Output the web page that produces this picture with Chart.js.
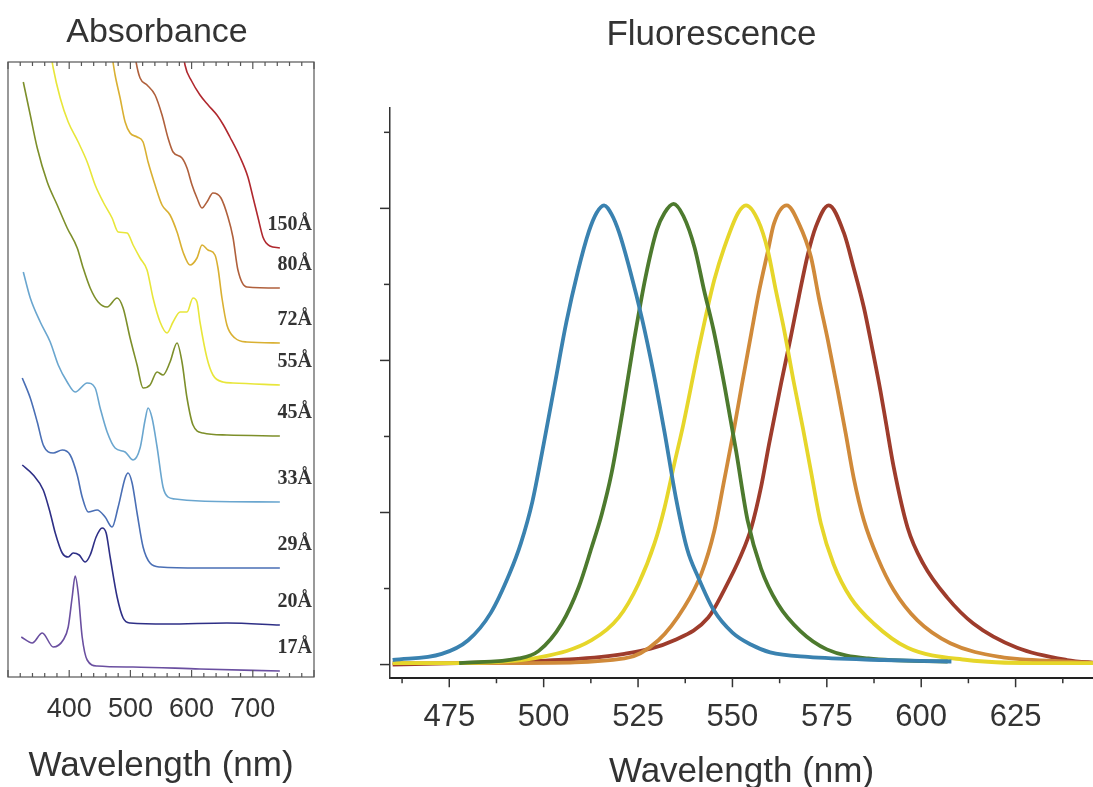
<!DOCTYPE html>
<html>
<head>
<meta charset="utf-8">
<script src="https://cdn.jsdelivr.net/npm/chart.js@4.4.0/dist/chart.umd.min.js"></script>
<style>
body{margin:0;background:#fff;}
#abs{position:absolute;left:0;top:0;width:320px;height:787px;}
#fluo{position:absolute;left:330px;top:0;width:763px;height:787px;}
</style>
</head>
<body>
<div id="abs"><canvas id="graficoAbsorbancia"></canvas></div>
<div id="fluo"><canvas id="graficoFluorescencia"></canvas></div>
<script>
// Absorbance: offset curves (arb. units), wavelength in nm
const tamanos = ['17Å', '20Å', '29Å', '33Å', '45Å', '55Å', '72Å', '80Å', '150Å'];

const nm17 = [321.7, 339.6, 356, 374, 390.2, 398.4, 404.9, 409.8, 414.7, 421.2, 429.4, 445.7, 504.4, 613.7, 744.2];
const abs17 = [4.0, 3.4, 4.4, 3.0, 3.7, 5.0, 8.0, 10.1, 8.4, 4.0, 1.7, 1.1, 1.0, 0.8, 0.6];

const nm20 = [323.3, 341.3, 357.6, 369, 377.2, 388.6, 398.4, 406.5, 416.3, 426.1, 434.3, 444, 453.8, 460.4, 466.9, 478.3, 488.1, 499.5, 559.9, 657.7, 744.2];
const abs20 = [21.2, 20.2, 18.7, 16.4, 14.4, 12.4, 12.0, 12.4, 12.2, 11.5, 12.2, 14.0, 14.9, 14.4, 12.0, 8.0, 5.9, 5.4, 5.3, 5.4, 5.2];

const nm29 = [323.3, 336.4, 347.8, 357.6, 373.9, 388.6, 401.6, 413.1, 421.2, 431, 445.7, 458.7, 470.1, 480, 491.4, 496.2, 502.8, 510.9, 520.7, 532.1, 548.5, 613.7, 744.2];
const abs29 = [29.9, 27.9, 25.5, 23.2, 22.4, 22.7, 22.2, 20.2, 18.0, 16.5, 16.7, 16.0, 15.0, 17.0, 19.9, 20.4, 19.4, 16.4, 13.0, 11.4, 11.0, 10.9, 10.9];

const nm33 = [325, 336.4, 352.7, 369, 382.1, 396.7, 409.8, 429.4, 442.4, 450.6, 462, 475, 491.4, 504.4, 515.8, 524, 528.9, 535.4, 543.6, 553.3, 561.5, 572.9, 613.7, 744.2];
const abs33 = [40.5, 37.9, 35.5, 33.5, 31.2, 29.5, 28.5, 29.4, 28.9, 26.9, 24.5, 22.9, 22.5, 21.7, 22.9, 25.7, 26.9, 25.9, 23.0, 19.0, 18.0, 17.8, 17.6, 17.5];

const nm45 = [325, 336.4, 347.8, 364.1, 380.4, 396.7, 413.1, 422.8, 434.3, 447.3, 462, 478.3, 488.1, 499.5, 510.9, 520.7, 532.1, 543.6, 553.3, 564.8, 576.2, 584.3, 592.5, 602.3, 618.6, 657.7, 744.2];
const abs45 = [59.5, 56.2, 52.9, 49.5, 47.2, 44.9, 42.9, 40.9, 38.9, 37.5, 37.0, 37.9, 36.9, 33.9, 31.2, 28.9, 29.2, 30.5, 30.2, 31.5, 33.4, 31.5, 27.9, 25.2, 24.4, 24.2, 24.1];

const nm55 = [366, 373.9, 385.3, 398.4, 414.7, 429.4, 442.4, 455.5, 470.1, 480, 494.6, 504.4, 515.8, 527.2, 537, 548.5, 559.9, 569.7, 581.1, 592.5, 602.3, 608.8, 613.7, 625.1, 634.9, 651.2, 667.5, 744.2];
const abs55 = [64, 60.9, 57.9, 55.5, 53.5, 51.5, 49.2, 47.5, 45.9, 44.5, 44.4, 43.2, 41.9, 40.7, 37.9, 35.5, 34.4, 35.5, 36.5, 36.5, 37.9, 37.5, 35.5, 31.9, 30.2, 29.5, 29.4, 29.2];

const nm72 = [466.9, 471.8, 475, 483.2, 491.4, 499.5, 510.9, 520.7, 528.9, 540.3, 551.7, 564.8, 576.2, 586, 597.4, 608.8, 617, 626.8, 638.2, 643.1, 649.6, 657.7, 670.8, 690.4, 744.2];
const abs72 = [63.5, 61.4, 60.2, 57.9, 55.5, 54.4, 54.0, 53.5, 51.5, 49.2, 47.2, 46.2, 44.5, 42.5, 41.2, 41.9, 43.2, 42.7, 42.2, 40.9, 37.9, 35.2, 33.9, 33.5, 33.4];

const nm80 = [506, 509.3, 515.8, 527.2, 540.3, 551.7, 561.5, 569.7, 584.3, 592.5, 600.7, 608.8, 617, 625.1, 634.9, 648, 659.4, 667.5, 675.7, 690.4, 744.2];
const abs80 = [63, 61.5, 59.9, 59.2, 58.2, 56.2, 53.9, 52.5, 51.9, 50.9, 49.2, 47.9, 46.9, 47.5, 48.4, 47.9, 46.0, 44.0, 40.7, 39.0, 38.9];

const nm150 = [584, 589.2, 600, 613.7, 627, 641.4, 652, 662.6, 679, 692, 700.2, 708.3, 716.5, 722, 727.9, 744.2];
const abs150 = [63.5, 61.2, 59.6, 58.2, 57.2, 56.2, 55.2, 54.0, 52.0, 50.0, 48.0, 46.0, 44.0, 43.4, 43.1, 42.9];

const absColores = ['#6a4fa0', '#2e2f86', '#4a6fb5', '#6aa6cf', '#7d8f2a', '#e8e63a', '#d9b032', '#b0603c', '#b0282e'];
const ticksAbs = [400, 500, 600, 700];

// Fluorescence: normalized intensity (arb. units), wavelength in nm
const nmAzul = [460, 473, 480, 486, 491, 494, 497, 500, 503, 506, 509, 512, 514, 516, 518, 520, 523, 526, 529, 532, 535, 538, 541, 545, 550, 555, 560, 570, 590, 608];
const fluoAzul = [0.03, 0.07, 0.16, 0.34, 0.60, 0.80, 1.07, 1.45, 1.85, 2.25, 2.58, 2.85, 2.97, 3.02, 2.96, 2.84, 2.58, 2.28, 1.93, 1.53, 1.10, 0.76, 0.57, 0.36, 0.21, 0.13, 0.08, 0.05, 0.03, 0.02];

const nmVerde = [477.6, 493.5, 498.7, 504.8, 509.3, 512.7, 515.4, 518, 521, 524, 527, 530, 532, 534.4, 537, 540, 542.5, 545, 548, 551, 554, 557.6, 562, 568, 575, 586, 607];
const fluoVerde = [0.01, 0.04, 0.09, 0.27, 0.51, 0.77, 0.99, 1.26, 1.68, 2.14, 2.55, 2.86, 2.97, 3.03, 2.95, 2.74, 2.46, 2.20, 1.82, 1.40, 0.95, 0.63, 0.40, 0.22, 0.10, 0.04, 0.02];

const nmAmarillo = [460, 477.6, 499.5, 512.7, 519.9, 525.1, 529.4, 532, 534.6, 537, 541, 543.1, 545.2, 547.8, 551.5, 553.6, 556.8, 559.4, 561.5, 563.7, 566.3, 568.7, 570.8, 573.4, 576.8, 581.3, 587.4, 596.4, 612.2, 629.6, 647];
const fluoAmarillo = [0.01, 0.01, 0.05, 0.16, 0.31, 0.53, 0.80, 1.03, 1.32, 1.58, 2.07, 2.31, 2.53, 2.74, 2.97, 3.02, 2.92, 2.72, 2.46, 2.20, 1.85, 1.55, 1.27, 0.93, 0.66, 0.44, 0.27, 0.11, 0.03, 0.01, 0.01];

const nmNaranja = [460, 495, 521.4, 530.4, 537.3, 541.8, 545.2, 547.8, 550.5, 552.5, 555, 557.1, 559.4, 561, 564.4, 567.6, 570.8, 572.9, 575.3, 577.9, 580, 582.1, 584.8, 588.5, 592.7, 599, 607.7, 620.9, 638.6, 647];
const fluoNaranja = [0.01, 0.01, 0.04, 0.16, 0.38, 0.60, 0.88, 1.21, 1.56, 1.84, 2.18, 2.46, 2.72, 2.90, 3.02, 2.90, 2.68, 2.41, 2.13, 1.80, 1.52, 1.23, 0.95, 0.70, 0.49, 0.29, 0.14, 0.05, 0.02, 0.01];

const nmRojo = [460, 477.6, 504, 521.4, 534.6, 543.6, 547.8, 552.3, 555, 557.6, 559.7, 562.9, 565.5, 567.6, 570, 572.1, 575.5, 579.5, 582.1, 584.8, 587.1, 589.2, 590.6, 592.7, 596.4, 600.6, 606.9, 613.8, 625.4, 638.6, 647];
const fluoRojo = [0.00, 0.01, 0.03, 0.07, 0.16, 0.31, 0.49, 0.72, 0.90, 1.17, 1.45, 1.85, 2.16, 2.42, 2.70, 2.88, 3.02, 2.84, 2.61, 2.35, 2.07, 1.80, 1.60, 1.30, 0.90, 0.66, 0.44, 0.27, 0.11, 0.03, 0.01];

const fluoColores = ['#3a82b0', '#4d7a2e', '#e6d62a', '#d08a3a', '#9e3c2c'];
const ticksFluo = [475, 500, 525, 550, 575, 600, 625];

Chart.defaults.font.family = '"Liberation Sans", Arial, sans-serif';
Chart.defaults.color = '#333';

const puntos = (xs, ys) => xs.map((x, i) => ({x: x, y: ys[i]}));
// no extra side padding for the tick labels
const sinRelleno = s => { s.paddingLeft = 0; s.paddingRight = 0; };

// box, inward ticks and size labels for the absorbance panel
const marcoAbs = {
    id: 'marcoAbs',
    afterDraw(chart) {
        const {ctx, chartArea: a, scales: {x, y}} = chart;
        ctx.save();
        ctx.strokeStyle = '#555';
        ctx.lineWidth = 1.2;
        ctx.strokeRect(a.left, a.top, a.right - a.left, a.bottom - a.top);
        x.ticks.forEach(t => {
            const px = x.getPixelForValue(t.value);
            const len = t.value % 100 === 0 ? 7 : 4;
            ctx.beginPath();
            ctx.moveTo(px, a.bottom); ctx.lineTo(px, a.bottom - len);
            ctx.moveTo(px, a.top); ctx.lineTo(px, a.top + len);
            ctx.stroke();
        });
        ctx.font = 'bold 20px "Liberation Serif", serif';
        ctx.fillStyle = '#333';
        ctx.textAlign = 'right';
        ctx.textBaseline = 'middle';
        chart.data.datasets.forEach(ds => {
            const ultimo = ds.data[ds.data.length - 1];
            ctx.fillText(ds.label, a.right - 2, y.getPixelForValue(ultimo.y) - 23);
        });
        ctx.restore();
    }
};

// outward tick marks for the fluorescence panel (major longer)
const marcasFluo = {
    id: 'marcasFluo',
    afterDraw(chart) {
        const {ctx, chartArea: a, scales: {x, y}} = chart;
        ctx.save();
        ctx.strokeStyle = '#333';
        ctx.lineWidth = 1.5;
        x.ticks.forEach(t => {
            const px = x.getPixelForValue(t.value);
            const len = t.value % 25 === 0 ? 9 : 5;
            ctx.beginPath(); ctx.moveTo(px, a.bottom); ctx.lineTo(px, a.bottom + len); ctx.stroke();
        });
        y.ticks.forEach(t => {
            const py = y.getPixelForValue(t.value);
            const len = Math.abs(t.value % 1) < 1e-6 ? 10 : 6;
            ctx.beginPath(); ctx.moveTo(a.left, py); ctx.lineTo(a.left - len, py); ctx.stroke();
        });
        ctx.restore();
    }
};

// absorbance chart
const seriesAbs = [[nm17, abs17], [nm20, abs20], [nm29, abs29], [nm33, abs33], [nm45, abs45],
                   [nm55, abs55], [nm72, abs72], [nm80, abs80], [nm150, abs150]];
new Chart(document.getElementById('graficoAbsorbancia').getContext('2d'), {
    type: 'line',
    data: {
        datasets: seriesAbs.map((s, i) => ({
            label: tamanos[i],
            data: puntos(s[0], s[1]),
            borderColor: absColores[i],
            borderWidth: 1.6,
            pointRadius: 0,
            fill: false,
            cubicInterpolationMode: 'monotone'
        }))
    },
    options: {
        responsive: true,
        maintainAspectRatio: false,
        animation: false,
        layout: {padding: {left: 0, right: 6, top: 0, bottom: 3}},
        plugins: {
            legend: {display: false},
            tooltip: {enabled: false},
            title: {
                display: true,
                text: 'Absorbance',
                color: '#333',
                font: {size: 34, weight: 'normal', lineHeight: 1},
                padding: {top: 16, bottom: 12}
            }
        },
        scales: {
            x: {
                type: 'linear',
                min: 300,
                max: 800,
                grid: {display: false},
                border: {display: false},
                ticks: {
                    stepSize: 20,
                    autoSkip: false,
                    maxRotation: 0,
                    padding: 11,
                    font: {size: 27, lineHeight: 1},
                    callback: v => ticksAbs.includes(v) ? v : ''
                },
                title: {
                    display: true,
                    text: 'Wavelength (nm)',
                    font: {size: 35, lineHeight: 1},
                    padding: {top: 15, bottom: 0}
                },
                afterFit: sinRelleno
            },
            y: {
                min: 0,
                max: 61.5,
                grid: {display: false},
                border: {display: false},
                ticks: {display: false},
                afterFit(s) { s.width = 8; }
            }
        }
    },
    plugins: [marcoAbs]
});

// fluorescence chart
const seriesFluo = [[nmAzul, fluoAzul], [nmVerde, fluoVerde], [nmAmarillo, fluoAmarillo], [nmNaranja, fluoNaranja], [nmRojo, fluoRojo]];
new Chart(document.getElementById('graficoFluorescencia').getContext('2d'), {
    type: 'line',
    data: {
        datasets: seriesFluo.map((s, i) => ({
            data: puntos(s[0], s[1]),
            borderColor: fluoColores[i],
            borderWidth: 3.8,
            pointRadius: 0,
            fill: false,
            cubicInterpolationMode: 'monotone'
        }))
    },
    options: {
        responsive: true,
        maintainAspectRatio: false,
        animation: false,
        layout: {padding: {left: 0, right: 0, top: 0, bottom: 0}},
        plugins: {
            legend: {display: false},
            tooltip: {enabled: false},
            title: {
                display: true,
                text: 'Fluorescence',
                color: '#333',
                font: {size: 35, weight: 'normal', lineHeight: 1},
                padding: {top: 18, bottom: 55}
            }
        },
        scales: {
            x: {
                type: 'linear',
                min: 459.3,
                max: 645.5,
                grid: {display: false},
                border: {display: true, color: '#222', width: 2},
                ticks: {
                    stepSize: 12.5,
                    includeBounds: false,
                    autoSkip: false,
                    maxRotation: 0,
                    padding: 16,
                    font: {size: 31, lineHeight: 1},
                    callback: v => ticksFluo.includes(v) ? v : ''
                },
                title: {
                    display: true,
                    text: 'Wavelength (nm)',
                    font: {size: 35, lineHeight: 0.85},
                    padding: {top: 8, bottom: 0}
                },
                afterFit: sinRelleno
            },
            y: {
                min: -0.09,
                max: 3.66,
                grid: {display: false},
                border: {display: true, color: '#333', width: 1.5},
                ticks: {display: false, stepSize: 0.5, includeBounds: false},
                afterFit(s) { s.width = 60; }
            }
        }
    },
    plugins: [marcasFluo]
});
</script>
</body>
</html>
